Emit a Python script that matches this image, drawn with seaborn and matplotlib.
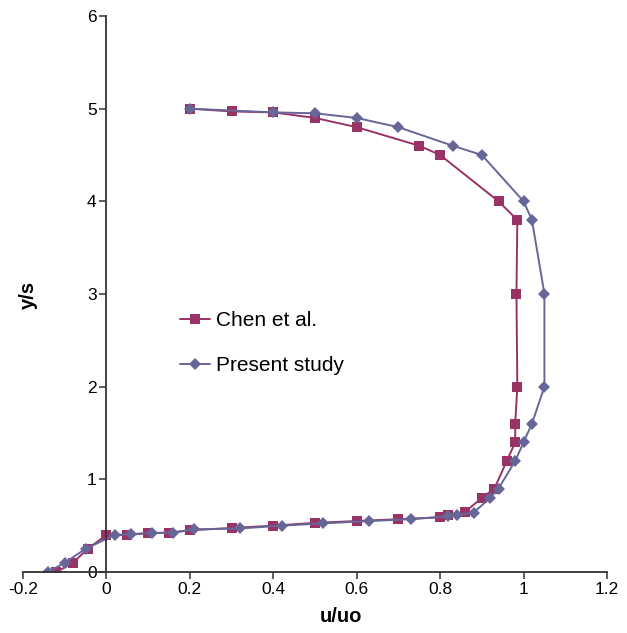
import matplotlib
matplotlib.use("Agg")
import matplotlib.pyplot as plt
import seaborn as sns
import pandas as pd

sns.set_theme(style="white")
plt.rcParams["font.family"] = ["Liberation Sans", "DejaVu Sans"]
plt.rcParams["text.color"] = "black"
plt.rcParams["axes.labelcolor"] = "black"

# Velocity profile u/uo against height y/s
chen_u = [-0.12, -0.08, -0.045, 0.0, 0.05, 0.10, 0.15, 0.20, 0.30, 0.40, 0.50, 0.60, 0.70,
          0.80, 0.82, 0.86, 0.90, 0.93, 0.96, 0.98, 0.98, 0.985, 0.983, 0.985, 0.94, 0.80,
          0.75, 0.60, 0.50, 0.40, 0.30, 0.20]
chen_y = [0.0, 0.10, 0.25, 0.40, 0.40, 0.42, 0.425, 0.45, 0.475, 0.50, 0.53, 0.55, 0.57,
          0.59, 0.61, 0.65, 0.80, 0.90, 1.20, 1.40, 1.60, 2.0, 3.0, 3.8, 4.0, 4.5,
          4.6, 4.8, 4.9, 4.96, 4.97, 5.0]

present_u = [-0.14, -0.10, -0.05, 0.02, 0.06, 0.11, 0.16, 0.21, 0.32, 0.42, 0.52, 0.63, 0.73,
             0.82, 0.84, 0.88, 0.92, 0.94, 0.98, 1.00, 1.02, 1.05, 1.05, 1.02, 1.00, 0.90,
             0.83, 0.70, 0.60, 0.50, 0.40, 0.20]
present_y = [0.0, 0.10, 0.25, 0.40, 0.41, 0.42, 0.425, 0.46, 0.47, 0.50, 0.525, 0.55, 0.57,
             0.60, 0.615, 0.64, 0.80, 0.90, 1.20, 1.40, 1.60, 2.0, 3.0, 3.8, 4.0, 4.5,
             4.6, 4.8, 4.9, 4.95, 4.96, 5.0]

x_ticks = [-0.2, 0, 0.2, 0.4, 0.6, 0.8, 1, 1.2]
x_tick_labels = ["-0.2", "0", "0.2", "0.4", "0.6", "0.8", "1", "1.2"]
y_ticks = [0, 1, 2, 3, 4, 5, 6]

chen_df = pd.DataFrame({"u": chen_u, "y": chen_y})
present_df = pd.DataFrame({"u": present_u, "y": present_y})

fig = plt.figure(figsize=(6.27, 6.33), dpi=100)
ax = fig.add_axes([23 / 627, 1 - 572 / 633, 584 / 627, 556 / 633])

sns.lineplot(data=chen_df, x="u", y="y", sort=False, estimator=None, ax=ax,
             color="#993366", marker="s", markersize=7.2, markeredgewidth=0,
             linewidth=1.4, label="Chen et al.")
sns.lineplot(data=present_df, x="u", y="y", sort=False, estimator=None, ax=ax,
             color="#666699", marker="D", markersize=6, markeredgewidth=0,
             linewidth=1.4, label="Present study")

ax.set_xlim(-0.2, 1.2)
ax.set_ylim(0, 6)
ax.set_xticks(x_ticks)
ax.set_xticklabels(x_tick_labels)
ax.set_yticks(y_ticks)

for side in ("top", "right"):
    ax.spines[side].set_visible(False)
ax.spines["left"].set_position(("data", 0))
for side in ("left", "bottom"):
    ax.spines[side].set_color("#333333")
    ax.spines[side].set_linewidth(1.3)

ax.tick_params(axis="both", direction="out", length=5, width=1.1, color="#333333",
               labelsize=12.5, labelcolor="black", bottom=True, left=True, pad=2)

ax.set_xlabel("u/uo", fontsize=14.5, fontweight="bold", va="center")
ax.xaxis.set_label_coords((341 - 23) / 584, -(617 - 572) / 556)
ax.set_ylabel("y/s", fontsize=14.5, fontweight="bold", va="center")
ax.yaxis.set_label_coords((28 - 23) / 584, 0.5 + (572 - 295 - 278) / 556)

ax.legend(loc="upper left", bbox_to_anchor=(0.237, 0.503), frameon=False,
          fontsize=15, handlelength=1.45, handletextpad=0.25, labelspacing=1.25,
          labelcolor="black")

fig.savefig("out.png", dpi=100)
